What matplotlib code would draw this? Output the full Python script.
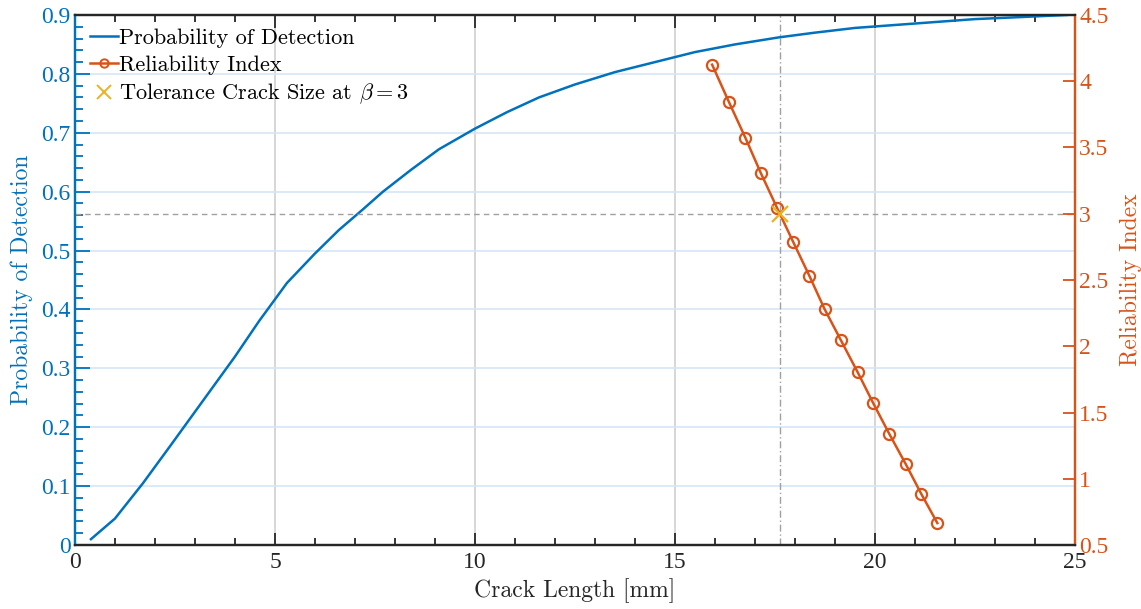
import matplotlib
matplotlib.use("Agg")
import matplotlib.pyplot as plt
from matplotlib.ticker import MultipleLocator
from matplotlib.lines import Line2D

# Data
pod_x = [0.4, 1.0, 1.7, 2.4, 3.2, 4.0, 4.6, 5.3, 6.0, 6.6, 7.2, 7.7, 8.4, 9.1, 10.0,
         10.8, 11.6, 12.5, 13.5, 14.5, 15.5, 16.5, 17.6, 18.5, 19.5, 20.5, 21.5,
         22.5, 23.5, 24.8]
pod_y = [0.01, 0.045, 0.105, 0.17, 0.245, 0.32, 0.38, 0.445, 0.495, 0.535, 0.57,
         0.60, 0.637, 0.672, 0.707, 0.735, 0.76, 0.782, 0.803, 0.82, 0.837, 0.85,
         0.862, 0.87, 0.878, 0.883, 0.888, 0.893, 0.896, 0.9]
rel_x = [15.93, 16.35, 16.76, 17.15, 17.55, 17.96, 18.36, 18.74, 19.15, 19.57,
         19.96, 20.36, 20.77, 21.16, 21.56]
rel_y = [4.125, 3.843, 3.574, 3.305, 3.046, 2.785, 2.532, 2.281, 2.045, 1.803,
         1.569, 1.338, 1.111, 0.885, 0.666]
tol_x = 17.63
tol_beta = 3.0

BLUE = "#0072BD"
ORANGE = "#D95319"
YELLOW = "#EDB120"

plt.rcParams["mathtext.fontset"] = "cm"
plt.rcParams["font.family"] = ["Liberation Serif"]
label_font = "cmr10"

fig = plt.figure(figsize=(11.41, 6.09), dpi=100)
ax1 = fig.add_axes([0.0657, 0.105, 0.8764, 0.8704])
ax2 = ax1.twinx()

# grids
ax1.set_xlim(0, 25)
ax1.set_ylim(0, 0.9)
ax2.set_ylim(0.5, 4.5)
for v in [5, 10, 15, 20]:
    ax1.axvline(v, color="#d0d0d0", lw=1.2, zorder=0)
for h in [0.1, 0.2, 0.3, 0.4, 0.5, 0.6, 0.7, 0.8]:
    ax1.axhline(h, color="#d6e5f5", lw=1.2, zorder=0)

ax1.plot(pod_x, pod_y, color=BLUE, lw=1.8, zorder=3)
ax1.axvline(tol_x, color="#a0a0a0", lw=1.0, ls=(0, (5, 2, 1, 2)), zorder=1)
ax2.axhline(tol_beta, color="#a0a0a0", lw=1.0, ls=(0, (4, 3)), zorder=1)
ax2.plot(rel_x, rel_y, color=ORANGE, lw=1.8, marker="o", ms=8, mfc="none",
         mec=ORANGE, mew=1.6, zorder=4)
ax2.plot([tol_x], [tol_beta], marker="x", color=YELLOW, ms=11, mew=1.6,
         ls="none", zorder=5)

# ticks
ax1.xaxis.set_major_locator(MultipleLocator(5))
ax1.xaxis.set_minor_locator(MultipleLocator(1))
ax1.yaxis.set_major_locator(MultipleLocator(0.1))
ax1.yaxis.set_minor_locator(MultipleLocator(0.02))
ax2.yaxis.set_major_locator(MultipleLocator(0.5))

ax1.tick_params(axis="x", which="both", direction="in", top=True, colors="#262626",
                labelsize=17, width=1.3)
ax1.tick_params(axis="x", which="major", length=9, pad=5)
ax1.tick_params(axis="x", which="minor", length=5)
ax1.tick_params(axis="y", which="both", direction="in", colors=BLUE, labelsize=17,
                width=1.3, right=False)
ax1.tick_params(axis="y", which="major", length=11, pad=3)
ax1.tick_params(axis="y", which="minor", length=6)
ax2.tick_params(axis="y", which="major", direction="in", colors=ORANGE, labelsize=17,
                length=9, width=1.3, pad=3)

def fmt(v, p):
    s = ("%.1f" % v).rstrip("0").rstrip(".")
    return s
ax1.yaxis.set_major_formatter(plt.FuncFormatter(fmt))
ax2.yaxis.set_major_formatter(plt.FuncFormatter(fmt))

for ax in (ax1, ax2):
    ax.spines["top"].set_color("#262626")
    ax.spines["bottom"].set_color("#262626")
    ax.spines["left"].set_color(BLUE)
    ax.spines["right"].set_color(ORANGE)
    for s in ax.spines.values():
        s.set_linewidth(1.6)
ax1.set_zorder(1)
ax2.set_zorder(2)
ax2.patch.set_visible(False)

ax1.set_xlabel("Crack Length [mm]", fontsize=17, family=label_font, color="#262626",
               labelpad=4)
ax1.set_ylabel("Probability of Detection", fontsize=17, family=label_font, color=BLUE,
               labelpad=6)
ax2.set_ylabel("Reliability Index", fontsize=17, family=label_font, color=ORANGE,
               labelpad=8)

handles = [
    Line2D([], [], color=BLUE, lw=1.8),
    Line2D([], [], color=ORANGE, lw=1.8, marker="o", ms=6, mfc="none", mec=ORANGE, mew=1.4),
    Line2D([], [], color=YELLOW, marker="x", ls="none", ms=10, mew=1.4),
]
labels = ["Probability of Detection", "Reliability Index",
          r"Tolerance Crack Size at $\beta=3$"]
leg = ax2.legend(handles, labels, loc="upper left", frameon=False,
                 prop={"family": label_font, "size": 16}, handlelength=1.25,
                 handletextpad=0.06, borderaxespad=0.0, borderpad=0.6,
                 labelspacing=0.32, bbox_to_anchor=(0.002, 1.0))

fig.savefig("out.png", dpi=100)
